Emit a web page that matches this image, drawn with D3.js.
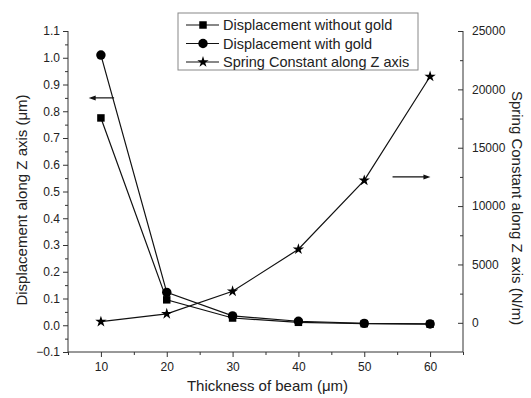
<!DOCTYPE html>
<html>
<head>
<meta charset="utf-8">
<script src="https://cdn.jsdelivr.net/npm/d3@7"></script>
<style>
  body { margin: 0; background: #fff; }
  svg { font-family: "Liberation Sans", Arial, sans-serif; }
  .axis path, .axis line { stroke: #333; }
  .axis text { font-size: 12px; fill: #222; }
</style>
</head>
<body>
<div id="chart"></div>
<script>
// thickness of beam (um)
const thickness = [10, 20, 30, 40, 50, 60];
// displacement along Z (um)
const dispNoGold = [0.775, 0.095, 0.027, 0.011, 0.006, 0.004];
const dispGold = [1.01, 0.123, 0.035, 0.015, 0.007, 0.005];
// spring constant (N/m)
const springK = [100, 770, 2700, 6300, 12200, 21100];

const xTicks = [10, 20, 30, 40, 50, 60];
const yLeftTicks = [-0.1, 0.0, 0.1, 0.2, 0.3, 0.4, 0.5, 0.6, 0.7, 0.8, 0.9, 1.0, 1.1];
const yRightTicks = [0, 5000, 10000, 15000, 20000, 25000];

const legendNames = ["Displacement without gold", "Displacement with gold", "Spring Constant along Z axis"];

const width = 531, height = 398;
const mLeft = 68, mRight = 463, mTop = 31, mBottom = 352;

const svg = d3.select("#chart").append("svg")
    .attr("width", width)
    .attr("height", height);

const x = d3.scaleLinear().domain([5, 65]).range([mLeft, mRight]);
const yL = d3.scaleLinear().domain([-0.1, 1.1]).range([mBottom, mTop]);
const yR = d3.scaleLinear().domain([-2500, 25000]).range([mBottom, mTop]);

// minor ticks first so major ticks sit on top
const xMinor = d3.range(5, 66, 5).filter(v => v % 10 !== 0);
svg.append("g").attr("class", "axis")
    .attr("transform", "translate(0," + mBottom + ")")
    .call(d3.axisBottom(x).tickValues(xMinor).tickSize(3).tickFormat(""))
    .call(g => g.select(".domain").remove());

const yMinor = d3.range(-0.05, 1.1, 0.1);
svg.append("g").attr("class", "axis")
    .attr("transform", "translate(" + mLeft + ",0)")
    .call(d3.axisLeft(yL).tickValues(yMinor).tickSize(3).tickFormat(""))
    .call(g => g.select(".domain").remove());

const yRMinor = d3.range(2500, 25000, 5000);
svg.append("g").attr("class", "axis")
    .attr("transform", "translate(" + mRight + ",0)")
    .call(d3.axisRight(yR).tickValues(yRMinor).tickSize(-3).tickFormat(""))
    .call(g => g.select(".domain").remove());

// major axes
svg.append("g").attr("class", "axis")
    .attr("transform", "translate(0," + mBottom + ")")
    .call(d3.axisBottom(x).tickValues(xTicks).tickSizeInner(5).tickSizeOuter(0).tickPadding(5))
    .call(g => g.select(".domain").attr("d", "M" + mLeft + ",0H" + mRight));

svg.append("g").attr("class", "axis")
    .attr("transform", "translate(" + mLeft + ",0)")
    .call(d3.axisLeft(yL).tickValues(yLeftTicks).tickFormat(d3.format(".1f")).tickSizeInner(5).tickSizeOuter(0).tickPadding(3))
    .call(g => g.select(".domain").attr("d", "M0," + mTop + "V" + mBottom));

svg.append("g").attr("class", "axis")
    .attr("transform", "translate(" + mRight + ",0)")
    .call(d3.axisRight(yR).tickValues(yRightTicks).tickFormat(d3.format("d")).tickSizeInner(-5).tickSizeOuter(0).tickPadding(9))
    .call(g => g.select(".domain").attr("d", "M0," + mTop + "V" + mBottom));

// axis titles
svg.append("text")
    .attr("x", (mLeft + mRight) / 2 + 2).attr("y", 391)
    .attr("text-anchor", "middle")
    .style("font-size", "15px").style("fill", "#222")
    .text("Thickness of beam (\u03bcm)");

svg.append("text")
    .attr("transform", "translate(27,200) rotate(-90)")
    .attr("text-anchor", "middle")
    .style("font-size", "15px").style("fill", "#222")
    .text("Displacement along Z axis (\u03bcm)");

svg.append("text")
    .attr("transform", "translate(512,208) rotate(90)")
    .attr("text-anchor", "middle")
    .style("font-size", "15px").style("fill", "#222")
    .text("Spring Constant along Z axis (N/m)");

// series
const series = [
    { vals: dispNoGold, y: yL, marker: d3.symbolSquare, size: 56 },
    { vals: dispGold, y: yL, marker: d3.symbolCircle, size: 70 },
    { vals: springK, y: yR, marker: d3.symbolStar, size: 40 }
];

series.forEach(s => {
    const pts = thickness.map((t, i) => [x(t), s.y(s.vals[i])]);
    svg.append("path")
        .attr("d", d3.line()(pts))
        .attr("fill", "none")
        .attr("stroke", "#111")
        .attr("stroke-width", 1.2);
    svg.append("g").selectAll("path")
        .data(pts).enter().append("path")
        .attr("transform", d => "translate(" + d[0] + "," + d[1] + ")")
        .attr("d", d3.symbol().type(s.marker).size(s.size))
        .attr("fill", "#000");
});

// arrows pointing to the matching axes
const arrowY1 = yL(0.85), arrowY2 = yR(12500);
svg.append("line")
    .attr("x1", x(12)).attr("y1", arrowY1)
    .attr("x2", x(8.6)).attr("y2", arrowY1)
    .attr("stroke", "#111").attr("stroke-width", 1.2);
svg.append("path")
    .attr("d", "M" + (x(8.6) - 3) + "," + arrowY1 + "l7,-2.5v5z")
    .attr("fill", "#111");

svg.append("line")
    .attr("x1", x(54.3)).attr("y1", arrowY2)
    .attr("x2", x(59.6)).attr("y2", arrowY2)
    .attr("stroke", "#111").attr("stroke-width", 1.2);
svg.append("path")
    .attr("d", "M" + (x(59.6) + 3) + "," + arrowY2 + "l-7,-2.5v5z")
    .attr("fill", "#111");

// legend
const legend = svg.append("g").attr("transform", "translate(178,13)");
legend.append("rect")
    .attr("width", 240).attr("height", 57)
    .attr("fill", "#fff").attr("stroke", "#888");
legendNames.forEach((name, i) => {
    const ly = 12 + i * 18.5;
    legend.append("line")
        .attr("x1", 8).attr("x2", 41).attr("y1", ly).attr("y2", ly)
        .attr("stroke", "#111").attr("stroke-width", 1.2);
    legend.append("path")
        .attr("transform", "translate(25," + ly + ")")
        .attr("d", d3.symbol().type(series[i].marker).size(series[i].size))
        .attr("fill", "#000");
    legend.append("text")
        .attr("x", 45).attr("y", ly).attr("dy", "0.35em")
        .style("font-size", "14.5px").style("fill", "#222")
        .text(name);
});
</script>
</body>
</html>
